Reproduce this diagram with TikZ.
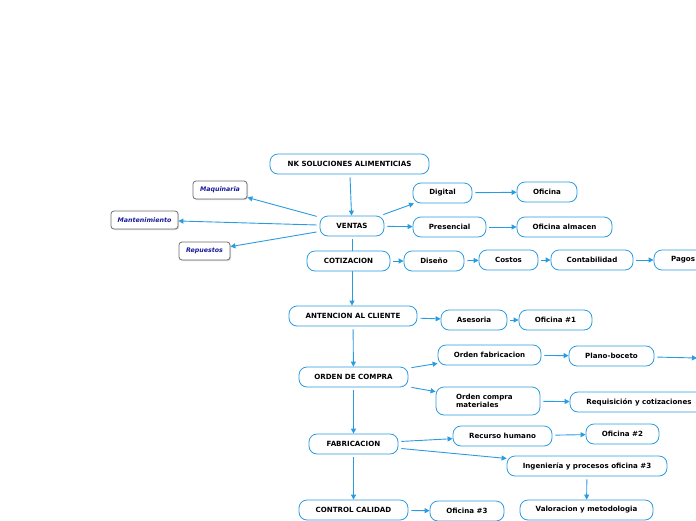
\documentclass[tikz,border=0pt]{standalone}
\usepackage{fontspec}
\setmainfont{DejaVu Sans}
\usepackage{tikz}
\usetikzlibrary{positioning}
\usetikzlibrary{arrows.meta}
\usetikzlibrary{shadows}
\usetikzlibrary{backgrounds}

\definecolor{mapblue}{HTML}{2B9BE0}
\definecolor{sidegray}{HTML}{6E6E6E}
\definecolor{sideink}{HTML}{1A1A9A}

\tikzset{
  topic/.style={draw=mapblue,line width=0.8pt,rounded corners=8pt,fill=white,
    minimum height=20pt,inner sep=2pt,font=\fontsize{7.1}{8}\selectfont\bfseries},
  side/.style={draw=sidegray,line width=0.8pt,rounded corners=3pt,fill=white,
    minimum height=18pt,inner sep=2pt,text=sideink,
    drop shadow={shadow xshift=1pt,shadow yshift=-1pt,opacity=0.3},
    font=\fontsize{6.3}{7.5}\selectfont\bfseries\itshape},
  link/.style={draw=mapblue,line width=0.9pt,shorten <=3pt,-{Triangle[length=5pt,width=5pt]}},
  plain link/.style={draw=mapblue,line width=0.9pt}
}

\begin{document}
\begin{tikzpicture}[x=1pt,y=-1pt]
\useasboundingbox (0,0) rectangle (696,520);

% main column
\node[topic,minimum width=159pt] (nk) at (349.5,164) {NK SOLUCIONES ALIMENTICIAS};
\node[topic,minimum width=64pt] (ventas) at (352,226) {VENTAS};
\node[topic,minimum width=83pt] (cotizacion) at (348.5,261) {COTIZACION};
\node[topic,minimum width=128pt] (cliente) at (353,316) {ANTENCION AL CLIENTE};
\node[topic,minimum width=109pt] (orden) at (353.5,377) {ORDEN DE COMPRA};
\node[topic,minimum width=89pt] (fabricacion) at (353.5,444) {FABRICACION};
\node[topic,minimum width=109pt] (control) at (353.5,510) {CONTROL CALIDAD};

% left side
\node[side,minimum width=54pt] (maquinaria) at (220,190) {Maquinaria};
\node[side,minimum width=67pt] (mantenimiento) at (144.5,220) {Mantenimiento};
\node[side,minimum width=51pt] (repuestos) at (204.5,251) {Repuestos};

% ventas branch
\node[topic,minimum width=59pt] (digital) at (442.5,193) {Digital};
\node[topic,minimum width=60pt] (oficina) at (547,192) {Oficina};
\node[topic,minimum width=73pt] (presencial) at (449.5,227) {Presencial};
\node[topic,minimum width=95pt] (almacen) at (564.5,227) {Oficina almacen};

% cotizacion branch
\node[topic,minimum width=60pt] (diseno) at (434,261) {Diseño};
\node[topic,minimum width=59pt] (costos) at (508.5,260) {Costos};
\node[topic,minimum width=82pt] (contabilidad) at (592,260) {Contabilidad};
\node[topic,minimum width=58pt] (pagos) at (683,260) {Pagos};

% cliente branch
\node[topic,minimum width=66pt] (asesoria) at (474,320) {Asesoria};
\node[topic,minimum width=73pt] (oficina1) at (555.5,320) {Oficina \#1};

% orden branch
\node[topic,minimum width=103pt] (ofab) at (489.5,355) {Orden fabricacion};
\node[topic,minimum width=85pt] (plano) at (611.5,356) {Plano-boceto};
\coordinate (plano end) at (697,358);
\node[topic,minimum width=104pt,minimum height=28pt,text width=64pt,align=left] (ocompra) at (488,401) {Orden compra\\materiales};
\node[topic,minimum width=138pt] (requisicion) at (639,402) {Requisición y cotizaciones};

% fabricacion branch
\node[topic,minimum width=99pt] (recurso) at (502.5,436) {Recurso humano};
\node[topic,minimum width=73pt] (oficina2) at (622.5,434) {Oficina \#2};
\node[topic,minimum width=160pt] (ingenieria) at (587,466) {Ingeniería y procesos oficina \#3};
\node[topic,minimum width=133pt] (valoracion) at (586.5,510) {Valoracion y metodologia};

% control branch
\node[topic,minimum width=74pt] (oficina3) at (467,511) {Oficina \#3};

% connectors
\begin{scope}[on background layer]
\draw[link] (nk) -- (ventas);
\draw[link] (ventas) -- (maquinaria);
\draw[link] (ventas) -- (mantenimiento);
\draw[link] (ventas) -- (repuestos);
\draw[link] (ventas) -- (digital);
\draw[link] (ventas) -- (presencial);
\draw[link] (ventas.south) -- (cliente.north -| ventas.south);
\draw[link] (digital) -- (oficina);
\draw[link] (presencial) -- (almacen);
\draw[link] (cotizacion) -- (diseno);
\draw[link] (diseno) -- (costos);
\draw[link] (costos) -- (contabilidad);
\draw[link] (contabilidad) -- (pagos);
\draw[link] (cliente) -- (asesoria);
\draw[link] (asesoria) -- (oficina1);
\draw[link] (cliente) -- (orden);
\draw[link] (orden) -- (ofab);
\draw[link] (orden) -- (ocompra);
\draw[link] (ofab) -- (plano);
\draw[link] (plano) -- (plano end);
\draw[link] (ocompra) -- (requisicion);
\draw[link] (orden) -- (fabricacion);
\draw[link] (fabricacion) -- (recurso);
\draw[link] (fabricacion) -- (ingenieria);
\draw[link] (recurso) -- (oficina2);
\draw[link] (ingenieria) -- (valoracion);
\draw[link] (fabricacion) -- (control);
\draw[link] (control) -- (oficina3);
\end{scope}
\end{tikzpicture}
\end{document}
